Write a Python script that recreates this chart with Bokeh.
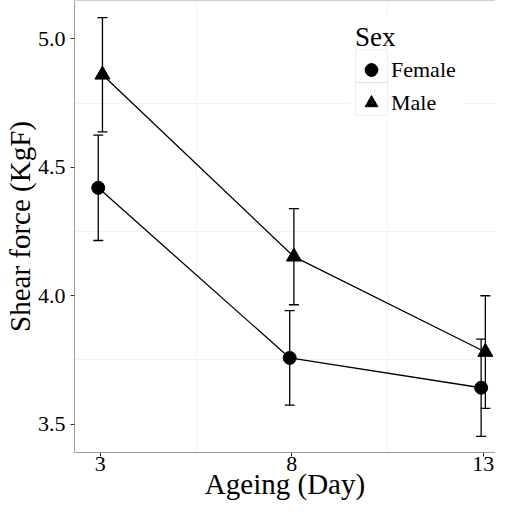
from bokeh.plotting import figure
from bokeh.models import (Range1d, FixedTicker, Whisker, TeeHead, ColumnDataSource,
                          Legend, LegendItem, Span, BoxAnnotation, PrintfTickFormatter)
from bokeh.embed import file_html
from bokeh.resources import INLINE

# ---- data ----
days = [3, 8, 13]
female_mean = [4.42, 3.758, 3.642]
female_se = [0.205, 0.184, 0.189]
male_mean = [4.86, 4.152, 3.781]
male_se = [0.222, 0.187, 0.219]
y_ticks = [3.5, 4.0, 4.5, 5.0]
y_minor = [3.75, 4.25, 4.75]
x_ticks = days
x_minor = [5.5, 10.5]

DODGE = 0.055
FONT = "Liberation Serif"
BORDER = "#a0a0a0"
GRID = "#f2f2f2"

fx = [d - DODGE for d in days]
mx = [d + DODGE for d in days]
src_f = ColumnDataSource(dict(x=fx, y=female_mean,
                              lo=[m - s for m, s in zip(female_mean, female_se)],
                              hi=[m + s for m, s in zip(female_mean, female_se)]))
src_m = ColumnDataSource(dict(x=mx, y=male_mean,
                              lo=[m - s for m, s in zip(male_mean, male_se)],
                              hi=[m + s for m, s in zip(male_mean, male_se)]))

W, H = 495, 502
Y_END = 5.149
p = figure(width=W, height=H,
           x_range=Range1d(2.325, 13.32), y_range=Range1d(3.39, Y_END),
           output_backend="svg", toolbar_location=None,
           min_border_left=67, min_border_right=0, min_border_top=0, min_border_bottom=0,
           x_axis_label="Ageing (Day)", y_axis_label="Shear force (KgF)")
p.outline_line_color = None
p.background_fill_color = "white"

p.xaxis.ticker = FixedTicker(ticks=x_ticks, minor_ticks=x_minor)
p.yaxis.ticker = FixedTicker(ticks=y_ticks, minor_ticks=y_minor)
p.yaxis.formatter = PrintfTickFormatter(format="%.1f")

for ax in (p.xaxis[0], p.yaxis[0]):
    ax.axis_line_color = BORDER
    ax.axis_line_width = 1
    ax.major_tick_line_color = "#333333"
    ax.major_tick_in = 0
    ax.major_tick_out = 4
    ax.minor_tick_line_color = None
    ax.major_label_text_font = FONT
    ax.major_label_text_font_size = "22px"
    ax.major_label_text_color = "black"
    ax.axis_label_text_font = FONT
    ax.axis_label_text_font_size = "29px"
    ax.axis_label_text_font_style = "normal"
    ax.axis_label_text_color = "black"
p.xaxis.major_label_standoff = 0
p.xaxis.axis_label_standoff = -6
p.yaxis.major_label_standoff = 5
p.yaxis.axis_label_standoff = -1

for g in (p.xgrid[0], p.ygrid[0]):
    g.grid_line_color = None
    g.minor_grid_line_color = GRID
    g.minor_grid_line_width = 1

p.add_layout(Span(location=Y_END, dimension="width", line_color=BORDER, line_width=1))

LEG_X, LEG_Y, PAD, KW, KH = 281, 333, 4, 32, 33
LEG_W, LEG_H = 113, 104
# white panel behind the legend (hides grid lines), screen units relative to frame
p.add_layout(BoxAnnotation(left=LEG_X - 6, right=LEG_X + LEG_W - 4, bottom=LEG_Y, top=LEG_Y + LEG_H,
                           left_units="screen", right_units="screen",
                           top_units="screen", bottom_units="screen",
                           fill_color="white", fill_alpha=1, line_color=None, level="glyph"))

for src in (src_f, src_m):
    p.add_layout(Whisker(base="x", lower="lo", upper="hi", source=src, dimension="height",
                         line_color="black", line_width=1.3,
                         lower_head=TeeHead(size=10, line_color="black", line_width=1.3),
                         upper_head=TeeHead(size=10, line_color="black", line_width=1.3)))

p.line("x", "y", source=src_f, line_color="black", line_width=1.3)
p.line("x", "y", source=src_m, line_color="black", line_width=1.3)
rf = p.scatter("x", "y", source=src_f, marker="circle", size=13, color="black")
rm = p.scatter("x", "y", source=src_m, marker="triangle", size=15, color="black")

legend = Legend(items=[LegendItem(label="Female", renderers=[rf]),
                       LegendItem(label="Male", renderers=[rm])],
                location=(LEG_X, LEG_Y), title="Sex",
                title_text_font=FONT, title_text_font_size="27px", title_text_font_style="normal",
                title_text_color="black", title_standoff=0,
                label_text_font=FONT, label_text_font_size="22px", label_text_color="black",
                glyph_width=KW, glyph_height=KH, label_standoff=4, spacing=0,
                padding=PAD, margin=0, border_line_color=None,
                background_fill_alpha=0)
p.add_layout(legend)

# legend key boxes (the legend glyph area sits 4px left of LEG_X + PAD)
KEY_LEFT = LEG_X + PAD - 4
for i in range(2):
    b = LEG_Y + PAD + KH * i
    p.add_layout(BoxAnnotation(left=KEY_LEFT, right=KEY_LEFT + KW, bottom=b, top=b + KH,
                               left_units="screen", right_units="screen",
                               top_units="screen", bottom_units="screen",
                               fill_color=None, fill_alpha=0, line_color="#c8c8c8", line_width=1,
                               level="overlay"))

open("out.html", "w").write(file_html(p, INLINE))
